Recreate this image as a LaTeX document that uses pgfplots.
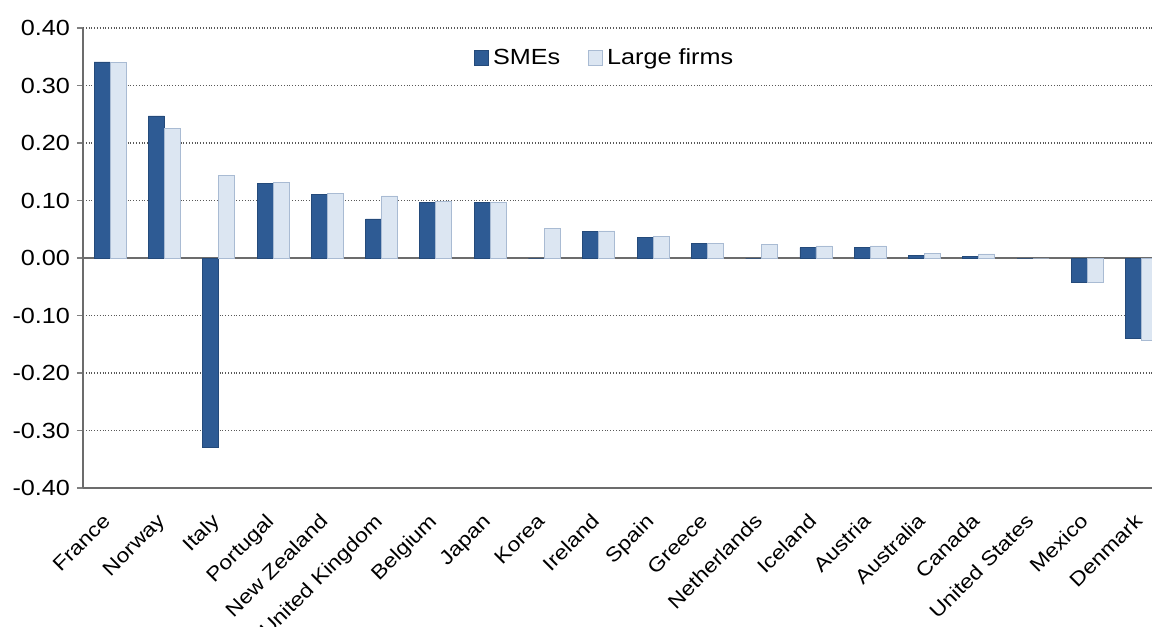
\documentclass[border=0pt]{standalone}
\usepackage{pgfplots}
\pgfplotsset{compat=1.18}
\usepackage{pgfplotstable}
\usepackage{fontspec}
\setmainfont[FakeStretch=1.15]{Liberation Sans}
\definecolor{sme}{HTML}{2E5B94}
\definecolor{smeedge}{HTML}{244A7A}
\definecolor{large}{HTML}{DCE6F2}
\definecolor{largeedge}{HTML}{A9BBD3}
\pgfplotstableread{
x sme large
0 0.341 0.340
1 0.247 0.226
2 -0.330 0.143
3 0.129 0.132
4 0.110 0.113
5 0.068 0.108
6 0.097 0.098
7 0.097 0.097
8 0.000 0.052
9 0.046 0.047
10 0.035 0.037
11 0.026 0.026
12 0.000 0.024
13 0.018 0.021
14 0.018 0.021
15 0.005 0.008
16 0.002 0.007
17 0.000 0.000
18 -0.043 -0.043
19 -0.140 -0.143
}\datatable
\begin{document}
\begin{tikzpicture}
\begin{axis}[
  name=ax,
  scale only axis, width=534.5bp, height=230bp,
  xmin=-0.5, xmax=19.19, ymin=-0.4, ymax=0.4,
  ybar=0pt, bar width=8bp,
  axis lines*=left, axis line style={-, gray!85!black, line width=0.8pt},
  xtick={0,...,19},
  xticklabels={France,Norway,Italy,Portugal,New Zealand,United Kingdom,Belgium,Japan,Korea,Ireland,Spain,Greece,Netherlands,Iceland,Austria,Australia,Canada,United States,Mexico,Denmark},
  x tick label style={rotate=45, anchor=north east, font=\fontsize{10}{12}\selectfont, xshift=-6bp, yshift=0bp},
  x tick style={draw=none},
  ytick={-0.4,-0.3,-0.2,-0.1,0,0.1,0.2,0.3,0.4},
  y tick label style={font=\fontsize{11}{13}\selectfont, /pgf/number format/.cd, fixed, fixed zerofill, precision=2, assume math mode=true},
  y tick style={gray, line width=0.6pt},
  major tick length=3bp, tick align=outside,
  ymajorgrids, grid style={densely dotted, gray!70!black, line width=0.6pt},
  extra y ticks={0}, extra y tick labels={},
  extra y tick style={grid style={solid, gray!85!black, line width=1.2pt}, major tick length=0pt},
  legend style={at={(0.489,0.935)}, anchor=center, draw=none, fill=none, legend columns=2,
    font=\fontsize{11}{13}\selectfont,
    /tikz/every even column/.append style={column sep=12bp}},
  legend image code/.code={\draw[#1] (0bp,-3.5bp) rectangle (7bp,4bp);},
  clip=false,
]
\addplot[fill=sme, draw=smeedge] table[x=x, y=sme] {\datatable};
\addplot[fill=large, draw=largeedge] table[x=x, y=large] {\datatable};
\legend{SMEs, Large firms}
\end{axis}
\pgfresetboundingbox
\path ([shift={(-41.5bp,-69.5bp)}]ax.south west) rectangle ([shift={(0bp,14bp)}]ax.north east);
\end{tikzpicture}
\end{document}
